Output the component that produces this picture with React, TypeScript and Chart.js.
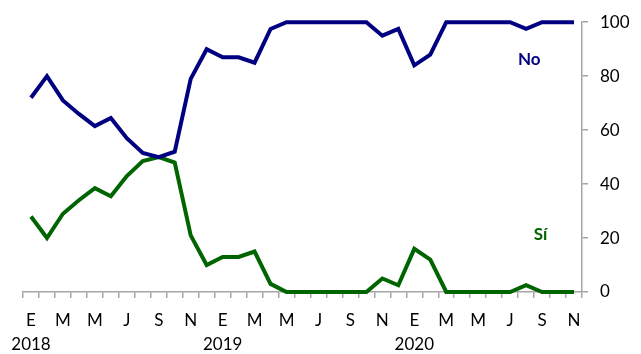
import React, { useEffect, useRef } from "react";
import { Chart, registerables } from "chart.js";

Chart.register(...registerables);

const years = ["2018", "2019", "2020"];
const monthInitials = ["E", "F", "M", "A", "M", "J", "J", "A", "S", "O", "N", "D"];
const monthCount = 35; // Jan 2018 .. Nov 2020

const categories: string[] = [];
for (let y = 0; y < years.length; y++) {
  for (let m = 0; m < 12; m++) {
    if (categories.length < monthCount) categories.push(`${years[y]}-${m + 1}`);
  }
}

const noValues = [72, 80, 71, 66, 61.5, 64.5, 57, 51.5, 50, 52, 79, 90, 87, 87, 85, 97.5, 100, 100, 100, 100, 100, 100, 95, 97.5, 84, 88, 100, 100, 100, 100, 100, 97.5, 100, 100, 100];
const siValues = [28, 20, 29, 34, 38.5, 35.5, 43, 48.5, 50, 48, 21, 10, 13, 13, 15, 3, 0, 0, 0, 0, 0, 0, 5, 2.5, 16, 12, 0, 0, 0, 0, 0, 2.5, 0, 0, 0];

const yTicks = [0, 20, 40, 60, 80, 100];

const seriesNames = ["No", "Sí"];
const seriesColors = ["#000080", "#006400"];
const FONT = "Lato, 'Open Sans', sans-serif";

const labelPlugin = {
  id: "seriesLabels",
  afterDatasetsDraw(chart: any) {
    const { ctx, scales } = chart;
    const xs = scales.x;
    const ys = scales.y;
    const anchors = [
      { text: seriesNames[0], color: seriesColors[0], xi: 31.2, yv: 86.3 },
      { text: seriesNames[1], color: seriesColors[1], xi: 31.9, yv: 21.2 },
    ];
    ctx.save();
    ctx.font = `bold 17px ${FONT}`;
    ctx.textAlign = "center";
    ctx.textBaseline = "middle";
    for (const a of anchors) {
      ctx.fillStyle = a.color;
      ctx.fillText(a.text, xs.getPixelForValue(a.xi), ys.getPixelForValue(a.yv));
    }
    ctx.restore();
  },
};

export default function App() {
  const ref = useRef<HTMLCanvasElement | null>(null);
  useEffect(() => {
    if (!ref.current) return;
    const chart = new Chart(ref.current, {
      type: "line",
      data: {
        labels: categories,
        datasets: [
          {
            label: seriesNames[0],
            data: noValues,
            borderColor: seriesColors[0],
            backgroundColor: seriesColors[0],
            borderWidth: 4,
            pointRadius: 0,
            tension: 0,
            clip: false as any,
          },
          {
            label: seriesNames[1],
            data: siValues,
            borderColor: seriesColors[1],
            backgroundColor: seriesColors[1],
            borderWidth: 4,
            pointRadius: 0,
            tension: 0,
            clip: false as any,
          },
        ],
      },
      options: {
        animation: false,
        responsive: false,
        layout: { padding: { left: 23, top: 22, right: 0, bottom: 0 } },
        plugins: { legend: { display: false }, tooltip: { enabled: false } },
        scales: {
          x: {
            type: "category",
            offset: true,
            grid: {
              display: true,
              offset: true,
              drawOnChartArea: false,
              drawTicks: true,
              tickLength: 6,
              color: "#a6a6a6",
              lineWidth: 1.5,
            },
            border: { display: true, color: "#a6a6a6", width: 1.5 },
            ticks: {
              autoSkip: false,
              maxRotation: 0,
              minRotation: 0,
              padding: 10,
              color: "#000",
              font: { family: FONT, size: 17, lineHeight: 1.45 },
              callback: (_v: any, i: number) => {
                const m = i % 12;
                if (m % 2 !== 0) return "";
                const letter = monthInitials[m];
                if (m === 0) return [letter, years[Math.floor(i / 12)]];
                return letter;
              },
            },
            afterFit: (s: any) => {
              s.height = 62;
            },
          },
          y: {
            position: "right",
            min: 0,
            max: 100,
            afterBuildTicks: (s: any) => {
              s.ticks = yTicks.map((v) => ({ value: v }));
            },
            grid: {
              display: true,
              drawOnChartArea: false,
              drawTicks: true,
              tickLength: 6,
              color: "#a6a6a6",
              lineWidth: 1.5,
            },
            border: { display: true, color: "#a6a6a6", width: 1.5 },
            ticks: {
              padding: 12,
              color: "#000",
              font: { family: FONT, size: 17 },
            },
            afterFit: (s: any) => {
              s.width = 59;
            },
          },
        },
      },
      plugins: [labelPlugin],
    });
    return () => chart.destroy();
  }, []);
  return (
    <div style={{ position: "absolute", left: 0, top: 0, width: 641, height: 354, background: "#fff" }}>
      <canvas ref={ref} width={641} height={354} />
    </div>
  );
}
